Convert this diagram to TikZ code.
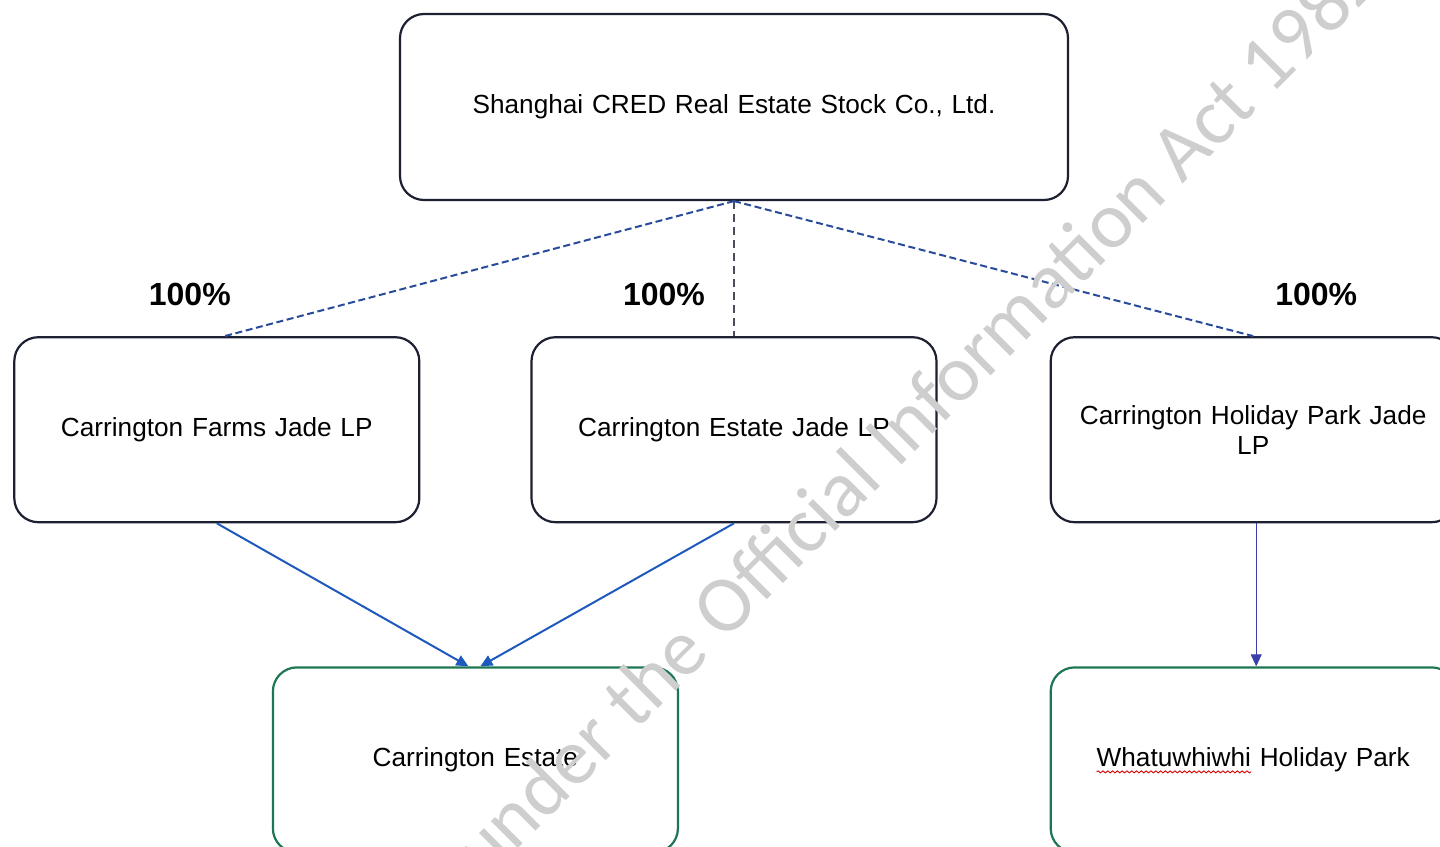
\documentclass[tikz,border=0pt]{standalone}
\usepackage{fontspec}
\setmainfont{Liberation Sans}
\newfontfamily\markfont{Carlito}
\usetikzlibrary{positioning,calc,arrows.meta,decorations.pathmorphing}
\hyphenpenalty=10000
\exhyphenpenalty=10000

\definecolor{boxline}{RGB}{28,32,50}
\definecolor{assetline}{RGB}{30,118,82}
\definecolor{ownline}{RGB}{40,75,155}
\definecolor{flowline}{RGB}{30,90,190}
\definecolor{markgray}{RGB}{206,206,206}

\newsavebox\wavebox
\newcommand{\spellmark}[1]{\sbox\wavebox{#1}%
  \tikz[overlay,baseline=0pt,sharp corners]\draw[red!85!black,line width=0.45pt,sharp corners,decorate,
    decoration={snake,amplitude=0.5pt,segment length=2.4pt}]
    (0pt,-2.6pt) -- (\the\wd\wavebox,-2.6pt);%
  \usebox\wavebox}

\tikzset{
  company/.style={draw=boxline,line width=1.1pt,rounded corners=12pt,
    minimum width=202.5pt,minimum height=92.5pt,text width=180pt,align=center,
    font=\fontsize{13.1}{15}\selectfont},
  asset/.style={company,draw=assetline},
  holds/.style={ownline,line width=1pt,dash pattern=on 3.5pt off 1.8pt},
  flow/.style={flowline,line width=1pt,-{Triangle[length=6pt,width=5.5pt]}},
  pct/.style={inner sep=0pt,font=\fontsize{16}{18}\selectfont\bfseries},
}

\begin{document}
\begin{tikzpicture}[x=0.5pt,y=-0.5pt]
  \useasboundingbox (0,0) rectangle (1440,846);
  \clip (0,0) rectangle (1440,846);
  \fill[white] (0,0) rectangle (1440,846);

  \node[company,minimum width=334pt,minimum height=93pt,text width=300pt] (cred) at (734,107) {Shanghai CRED Real Estate Stock Co., Ltd.};
  \node[company,below=67.5pt of cred] (estatelp) {Carrington Estate Jade LP};
  \node[company,left=55pt of estatelp] (farmslp) {Carrington Farms Jade LP};
  \node[company,right=56pt of estatelp] (holidaylp) {Carrington Holiday Park Jade\\LP};

  \node[asset,anchor=north] (estate) at ($(farmslp.south)!0.5!(estatelp.south)+(0,-71.5pt)$) {Carrington Estate};
  \node[asset,below=71.5pt of holidaylp] (whatu) {\spellmark{Whatuwhiwhi} Holiday Park};

  \draw[holds] (cred.south) -- ([xshift=4pt]farmslp.north);
  \draw[holds,boxline!80,line width=0.7pt,dash pattern=on 4pt off 2.5pt] (cred.south) -- (estatelp.north);
  \draw[holds] (cred.south) -- (holidaylp.north);

  \draw[flow] (farmslp.south) -- ([xshift=-3.5pt]estate.north);
  \draw[flow] (estatelp.south) -- ([xshift=2.5pt]estate.north);
  \draw[flow,line width=0.5pt,flowline!70!violet] ([xshift=1.5pt]holidaylp.south) -- ([xshift=1.5pt]whatu.north);

  \node[pct] (pctfarms) at ([shift={(-13.5pt,21pt)}]farmslp.north) {100\%};
  \node[pct] (pctestate) at ([shift={(-35pt,21pt)}]estatelp.north) {100\%};
  \node[pct] (pctholiday) at ([shift={(31.5pt,21pt)}]holidaylp.north) {100\%};

  \node[text=markgray,rotate=45,anchor=base,font=\markfont\fontsize{40}{44}\selectfont] (stamp) at (826,541) {Released under the Official Information Act 1982};
\end{tikzpicture}
\end{document}
